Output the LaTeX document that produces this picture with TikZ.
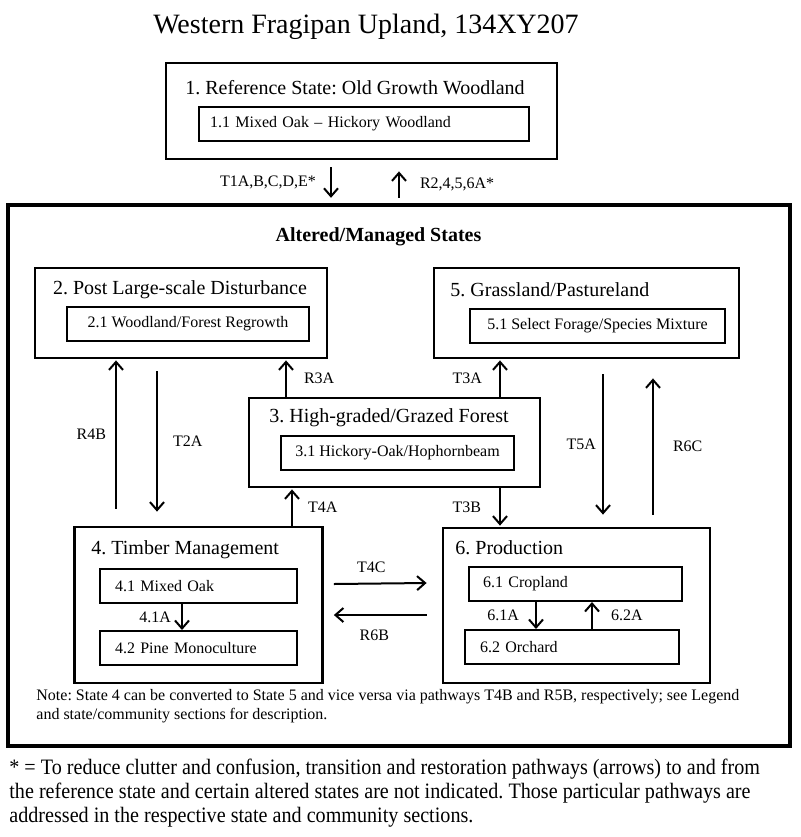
\documentclass[tikz,border=0pt]{standalone}
\usepackage{fontspec}
\setmainfont{Liberation Serif}
\newfontfamily\narrowfont[FakeStretch=0.915]{Liberation Serif}
\frenchspacing
\usetikzlibrary{arrows.meta,calc,positioning}

\tikzset{
	statebox/.style={draw, line width=1.4pt, inner sep=0pt},
	commbox/.style={draw, line width=1pt, inner sep=0pt, minimum height=17pt, font=\fontsize{8}{10}\selectfont},
	lcomm/.style={commbox, align=left, inner xsep=7.5pt},
	head/.style={inner sep=0pt, font=\fontsize{10}{12}\selectfont},
	move/.style={line width=1pt, -{Straight Barb[length=4pt,width=7pt]}},
	lbl/.style={inner sep=0pt, font=\fontsize{8}{10}\selectfont},
}

\begin{document}
\begin{tikzpicture}[x=0.5pt,y=-0.5pt]
	\useasboundingbox (0,0) rectangle (800,837);
	\node[inner sep=0pt, font=\fontsize{14}{16}\selectfont] (title) at (366,27) {Western Fragipan Upland, 134XY207};
	
	% Reference state
	\node[statebox, minimum width=195.5pt, minimum height=48pt] (s1) at (361.5,111) {};
	\node[head] (s1t) at (355,88) {1. Reference State: Old Growth Woodland};
	\node[lcomm, inner xsep=5.5pt, text width=154pt] (c11) at (364,124) {1.1 Mixed Oak -- Hickory Woodland};
	
	% Altered states
	\node[draw, line width=2.2pt, minimum width=391pt, minimum height=270.5pt] (alt) at (399,475.5) {};
	\node[head, font=\fontsize{10}{12}\selectfont\bfseries] (altt) at (378.5,237) {Altered/Managed States};
	
	\node[statebox, minimum width=146pt, minimum height=45pt] (s2) at (181,313) {};
	\node[head] (s2t) at (180,290) {2. Post Large-scale Disturbance};
	\node[commbox, minimum width=121pt] (c21) at (188,324) {2.1 Woodland/Forest Regrowth};
	
	\node[statebox, minimum width=152.5pt, minimum height=45pt] (s5) at (586.5,313) {};
	\node[head, anchor=west] (s5t) at (450,290) {5. Grassland/Pastureland};
	\node[commbox, minimum width=127.5pt] (c51) at (597.5,325.5) {5.1 Select Forage/Species Mixture};
	
	\node[statebox, minimum width=145.5pt, minimum height=44.5pt] (s3) at (394.5,442.5) {};
	\node[head] (s3t) at (389,418) {3. High-graded/Grazed Forest};
	\node[commbox, minimum width=116.5pt] (c31) at (397.5,453) {3.1 Hickory-Oak/Hophornbeam};
	
	\node[statebox, minimum width=124pt, minimum height=78pt] (s4) at (198.5,605) {};
	\node[head, anchor=west] (s4t) at (91,550) {4. Timber Management};
	\node[lcomm, text width=83.5pt] (c41) at (198.5,586) {4.1 Mixed Oak};
	\node[lcomm, text width=83.5pt] (c42) at (198.5,648) {4.2 Pine Monoculture};
	
	\node[statebox, minimum width=133.5pt, minimum height=77.5pt] (s6) at (576.5,605.5) {};
	\node[head, anchor=west] (s6t) at (455,548) {6. Production};
	\node[lcomm, inner xsep=7pt, text width=92.5pt] (c61) at (575.5,584) {6.1 Cropland};
	\node[lcomm, text width=92pt] (c62) at (572,647) {6.2 Orchard};
	
	% Pathways
	\draw[move] ($(s1.south)+(-30.5,7)$) -- ($(alt.north)+(-68,-5)$) node[lbl, midway, left=7pt] {T1A,B,C,D,E*};
	\draw[move] ($(alt.north)+(0,-5)$) -- ($(s1.south)+(37.5,11)$) node[lbl, midway, right=10pt] {R2,4,5,6A*};
	\draw[move] ($(s4.north)+(-82.5,-17)$) -- ($(s2.south)+(-65,1)$) node[lbl, midway, left=4.5pt] {R4B};
	\draw[move] ($(s2.south)+(-24,12)$) -- ($(s4.north)+(-41.5,-14)$) node[lbl, midway, right=7.5pt] {T2A};
	\draw[move] ($(s3.north)+(-108.5,0)$) -- ($(s2.south)+(105,1)$) node[lbl, midway, right=8.5pt] {R3A};
	\draw[move] ($(s3.north)+(105.5,0)$) -- ($(s5.south)+(-86.5,1)$) node[lbl, midway, left=8.5pt] {T3A};
	\draw[move] ($(s4.north)+(93.5,0)$) -- ($(s3.south)+(-102.5,1)$) node[lbl, midway, right=7.5pt] {T4A};
	\draw[move] ($(s3.south)+(105.5,0)$) -- ($(s6.north)+(-76.5,-1)$) node[lbl, midway, left=9pt] {T3B};
	\draw[move] ($(s5.south)+(16.5,15)$) -- ($(s6.north)+(26.5,-12)$) node[lbl, midway, left=3pt] {T5A};
	\draw[move] ($(s6.north)+(76.5,-12)$) -- ($(s5.south)+(66.5,19)$) node[lbl, midway, right=9.5pt] {R6C};
	\draw[move] ($(s4.east)+(10,-21)$) -- ($(s6.west)+(-15,-22.5)$) node[lbl, midway, above=5pt, xshift=-4.5pt] {T4C};
	\draw[move] ($(s6.west)+(-15,9.5)$) -- ($(s4.east)+(10,10)$) node[lbl, midway, below=7pt, xshift=-3pt] {R6B};
	\draw[move] ($(c41.south)+(-16.5,0)$) -- ($(c42.north)+(-16.5,0)$) node[lbl, midway, left=5pt] {4.1A};
	\draw[move] ($(c61.south)+(-39.5,0)$) -- ($(c62.north)+(-36,0)$) node[lbl, midway, left=8pt] {6.1A};
	\draw[move] ($(c62.north)+(20,0)$) -- ($(c61.south)+(16.5,0)$) node[lbl, midway, right=9pt] {6.2A};
	
	% Notes
	\node[anchor=north west, align=left, inner sep=0pt, font=\fontsize{8}{9.5}\selectfont] (note) at (36,689) {Note: State 4 can be converted to State 5 and vice versa via pathways T4B and R5B, respectively; see Legend\\and state/community sections for description.};
	\node[anchor=north west, align=left, inner sep=0pt, font=\narrowfont\fontsize{11}{12}\selectfont] (foot) at (9,759) {* = To reduce clutter and confusion, transition and restoration pathways (arrows) to and from\\the reference state and certain altered states are not indicated. Those particular pathways are\\addressed in the respective state and community sections.};
\end{tikzpicture}
\end{document}
